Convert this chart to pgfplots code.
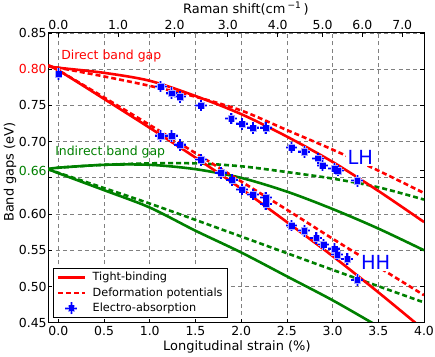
\documentclass[border=0pt]{standalone}
\usepackage{fontspec}
\setmainfont{DejaVu Sans}
\usepackage{pgfplots}
\pgfplotsset{compat=1.18}
\usepackage{pgfplotstable}
\definecolor{mplgreen}{rgb}{0,0.5,0}
\definecolor{mplred}{rgb}{1,0,0}
\definecolor{mplblue}{rgb}{0,0,1}

\pgfplotstableread{
x y ex ey
0.00 0.7935 0.02 0.008
1.12 0.776 0.065 0.008
1.24 0.767 0.065 0.008
1.33 0.762 0.065 0.008
1.56 0.750 0.065 0.008
1.89 0.732 0.065 0.008
2.01 0.7245 0.065 0.008
2.13 0.719 0.065 0.008
2.27 0.719 0.065 0.008
2.55 0.692 0.065 0.008
2.69 0.686 0.065 0.008
2.84 0.677 0.065 0.008
2.89 0.667 0.065 0.008
3.02 0.663 0.065 0.008
3.06 0.660 0.065 0.008
3.27 0.646 0.065 0.008
}\lhdata

\pgfplotstableread{
x y ex ey
1.12 0.708 0.065 0.008
1.24 0.708 0.065 0.008
1.33 0.6955 0.065 0.008
1.56 0.675 0.065 0.008
1.78 0.657 0.065 0.008
1.90 0.647 0.065 0.008
2.01 0.634 0.065 0.008
2.13 0.627 0.065 0.008
2.27 0.623 0.065 0.008
2.27 0.614 0.065 0.008
2.55 0.584 0.065 0.008
2.69 0.577 0.065 0.008
2.82 0.567 0.065 0.008
2.90 0.558 0.065 0.008
3.02 0.552 0.065 0.008
3.05 0.544 0.065 0.008
3.16 0.538 0.065 0.008
3.27 0.509 0.065 0.008
}\hhdata

\pgfplotsset{
  ealegend/.style={legend image code/.code={
    \draw[blue!35, line width=2.8bp] (13.35bp,-6bp)--(13.35bp,6bp) (7.35bp,0bp)--(19.35bp,0bp);
    \fill[blue!35] (10.25bp,-3.1bp) rectangle (16.45bp,3.1bp);
    \draw[mplblue, line width=1.5bp] (13.35bp,-6bp)--(13.35bp,6bp) (7.35bp,0bp)--(19.35bp,0bp);
    \fill[mplblue] (10.95bp,-2.4bp) rectangle (15.75bp,2.4bp);}},
}

\begin{document}
\begin{tikzpicture}
\begin{axis}[
  name=main,
  scale only axis, width=375.7bp, height=289.7bp,
  xmin=-0.11, xmax=4.0, ymin=0.45, ymax=0.85,
  xtick={0,0.5,1,1.5,2,2.5,3,3.5,4},
  xticklabels={0.0,0.5,1.0,1.5,2.0,2.5,3.0,3.5,4.0},
  xtick pos=left,
  ytick={0.45,0.5,0.55,0.6,0.65,0.7,0.75,0.8,0.85},
  yticklabels={0.45,0.50,0.55,0.60,,0.70,0.75,\textcolor{mplred}{0.80},0.85},
  extra y ticks={0.66},
  extra y tick labels={\textcolor{mplgreen}{0.66}},
  extra y tick style={grid=none},
  grid=major,
  grid style={black!50, line width=0.7bp, dash pattern=on 4bp off 3.3bp},
  tick align=inside, major tick length=4bp,
  tick style={black, line width=0.7bp},
  axis line style={black, line width=1bp},
  tick label style={font=\fontsize{12.5}{15}\selectfont},
  yticklabel style={inner xsep=1.5bp},
  xlabel={Longitudinal strain (\%)},
  ylabel={Band gaps (eV)},
  label style={font=\fontsize{13}{15}\selectfont},
  xlabel style={at={(axis description cs:0.502,-0.085)}, anchor=center},
  ylabel style={at={(axis description cs:-0.102,0.52)}, anchor=center},
  legend image code/.code={\draw[#1] (0bp,0bp)--(26.7bp,0bp);},
  legend cell align=left,
  legend style={at={(axis description cs:0.0125,0.0162)}, anchor=south west,
    draw=black, line width=0.8bp, fill=white,
    font=\fontsize{11.3}{13.5}\selectfont,
    inner xsep=3.3bp, inner ysep=1.6bp,
    nodes={inner xsep=2bp, inner ysep=2.7bp},
    row sep=0pt,
    /tikz/every odd column/.append style={column sep=4.7bp}},
]
% legend entries
\addlegendimage{mplred, line width=2.6bp}
\addlegendentry{Tight-binding}
\addlegendimage{mplred, line width=2.6bp, dash pattern=on 5bp off 3bp}
\addlegendentry{Deformation potentials}
\addlegendimage{ealegend}
\addlegendentry{Electro-absorption}

% green: indirect band gap
\addplot[mplgreen, line width=2.6bp, smooth] coordinates {
(-0.11,0.662) (0,0.664) (0.5,0.668) (1.0,0.668) (1.5,0.662) (2.0,0.650) (2.5,0.631) (3.0,0.607) (3.5,0.580) (4.0,0.550)};
\addplot[mplgreen, line width=2.6bp, smooth, dash pattern=on 5bp off 3bp] coordinates {
(-0.11,0.662) (0,0.664) (0.5,0.668) (1.0,0.670) (1.5,0.670) (2.0,0.666) (2.5,0.658) (3.0,0.649) (3.5,0.637) (4.0,0.620)};
\addplot[mplgreen, line width=2.6bp, smooth] coordinates {
(-0.11,0.662) (0,0.6565) (0.5,0.633) (1.0,0.609) (1.5,0.577) (2.0,0.547) (2.5,0.514) (3.0,0.481) (3.5,0.445) (4.0,0.410)};
\addplot[mplgreen, line width=2.6bp, smooth, dash pattern=on 5bp off 3bp] coordinates {
(-0.11,0.662) (0,0.657) (1.0,0.6145) (2.0,0.569) (3.0,0.523) (4.0,0.478)};

% red: direct band gap
\addplot[mplred, line width=2.6bp, smooth] coordinates {
(-0.11,0.804) (0,0.802) (0.5,0.795) (1.0,0.784) (1.5,0.763) (2.0,0.738) (2.5,0.707) (3.0,0.672) (3.5,0.632) (4.0,0.589)};
\addplot[mplred, line width=2.6bp, smooth, dash pattern=on 5bp off 3bp] coordinates {
(-0.11,0.804) (0,0.802) (0.5,0.790) (1.0,0.777) (1.5,0.762) (2.0,0.743) (2.5,0.716) (3.0,0.689) (3.5,0.660) (4.0,0.629)};
\addplot[mplred, line width=2.6bp, smooth] coordinates {
(-0.11,0.804) (0,0.7985) (0.5,0.759) (1.0,0.719) (1.5,0.678) (2.0,0.635) (2.5,0.589) (3.0,0.542) (3.5,0.492) (4.0,0.440)};
\addplot[mplred, line width=2.6bp, smooth, dash pattern=on 5bp off 3bp] coordinates {
(-0.11,0.804) (0,0.7985) (1.0,0.723) (2.0,0.645) (2.5,0.606) (3.0,0.566) (3.5,0.527) (4.0,0.488)};

% data: halo then core
\addplot[blue!35, only marks, mark=square*, mark size=3.1bp,
  error bars/.cd, x dir=both, x explicit, y dir=both, y explicit,
  error bar style={line width=2.8bp, blue!35}, error mark=none]
  table[x=x, y=y, x error=ex, y error=ey] {\lhdata};
\addplot[blue!35, only marks, mark=square*, mark size=3.1bp,
  error bars/.cd, x dir=both, x explicit, y dir=both, y explicit,
  error bar style={line width=2.8bp, blue!35}, error mark=none]
  table[x=x, y=y, x error=ex, y error=ey] {\hhdata};
\addplot[mplblue, only marks, mark=square*, mark size=2.4bp,
  error bars/.cd, x dir=both, x explicit, y dir=both, y explicit,
  error bar style={line width=1.5bp, mplblue}, error mark=none]
  table[x=x, y=y, x error=ex, y error=ey] {\lhdata};
\addplot[mplblue, only marks, mark=square*, mark size=2.4bp,
  error bars/.cd, x dir=both, x explicit, y dir=both, y explicit,
  error bar style={line width=1.5bp, mplblue}, error mark=none]
  table[x=x, y=y, x error=ex, y error=ey] {\hhdata};

% annotations
\node[anchor=base west, inner sep=0pt, text=mplred, font=\fontsize{12.5}{15}\selectfont] at (axis cs:0.03,0.8128) {Direct band gap};
\node[anchor=base west, inner sep=0pt, text=mplgreen, font=\fontsize{12.5}{15}\selectfont] at (axis cs:-0.036,0.6803) {Indirect band gap};
\node[anchor=base west, inner sep=1.5bp, xshift=-1.5bp, fill=white, text=mplblue, font=\fontsize{19.5}{22}\selectfont] at (axis cs:3.162,0.6679) {LH};
\node[anchor=base west, inner sep=1.5bp, xshift=-1.5bp, fill=white, text=mplblue, font=\fontsize{19.5}{22}\selectfont] at (axis cs:3.309,0.524) {HH};
\end{axis}

\begin{axis}[
  scale only axis, width=375.7bp, height=289.7bp,
  xmin=-0.11, xmax=4.0, ymin=0.45, ymax=0.85,
  hide y axis,
  xtick pos=right, xticklabel pos=right,
  xtick={0,0.654,1.272,1.854,2.40,2.89,3.326,3.762},
  xticklabels={0.0,1.0,2.0,3.0,4.0,5.0,6.0,7.0},
  tick align=inside, major tick length=4bp,
  tick style={black, line width=0.7bp},
  axis line style={black, line width=1bp},
  tick label style={font=\fontsize{12.5}{15}\selectfont},
  xlabel={Raman shift(cm\,\textsuperscript{\char"2212 1}\,)},
  label style={font=\fontsize{13}{15}\selectfont},
  xlabel style={at={(axis description cs:0.526,1.0846)}, anchor=center},
]
\addplot[draw=none] coordinates {(0,0.5)};
\end{axis}
\pgfresetboundingbox
\path[use as bounding box] ([xshift=-48.3bp,yshift=-34.3bp]main.south west) rectangle ([xshift=11bp,yshift=33bp]main.north east);
\end{tikzpicture}
\end{document}
